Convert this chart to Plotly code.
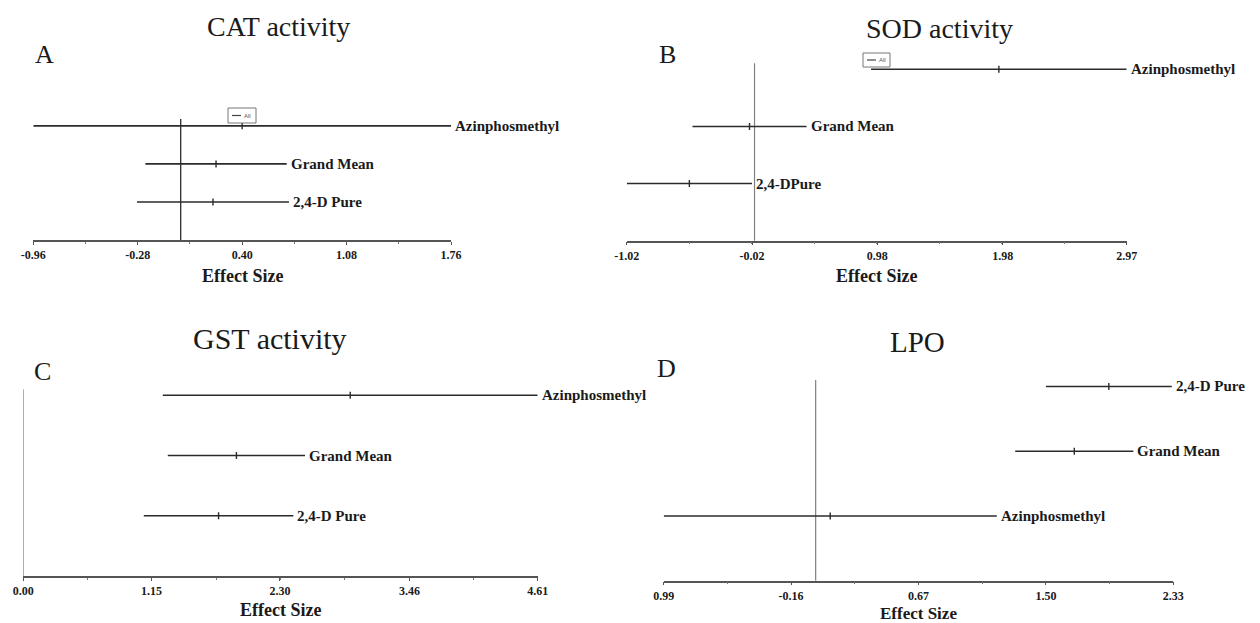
import plotly.graph_objects as go

# ---------------- data ----------------
# Panel A - CAT activity (top row first)
cat_labels = ["Azinphosmethyl", "Grand Mean", "2,4-D Pure"]
cat_mean = [0.40, 0.23, 0.21]
cat_low = [-0.96, -0.23, -0.285]
cat_high = [1.76, 0.69, 0.705]
cat_ticks = [-0.96, -0.28, 0.40, 1.08, 1.76]
cat_ticktext = ["-0.96", "-0.28", "0.40", "1.08", "1.76"]

# Panel B - SOD activity
sod_labels = ["Azinphosmethyl", "Grand Mean", "2,4-DPure"]
sod_mean = [1.95, -0.04, -0.52]
sod_low = [0.93, -0.495, -1.02]
sod_high = [2.97, 0.415, -0.02]
sod_ticks = [-1.02, -0.02, 0.98, 1.98, 2.97]
sod_ticktext = ["-1.02", "-0.02", "0.98", "1.98", "2.97"]

# Panel C - GST activity
gst_labels = ["Azinphosmethyl", "Grand Mean", "2,4-D Pure"]
gst_mean = [2.93, 1.91, 1.75]
gst_low = [1.25, 1.295, 1.08]
gst_high = [4.61, 2.525, 2.42]
gst_ticks = [0.00, 1.15, 2.30, 3.46, 4.61]
gst_ticktext = ["0.00", "1.15", "2.30", "3.46", "4.61"]

# Panel D - LPO
lpo_labels = ["2,4-D Pure", "Grand Mean", "Azinphosmethyl"]
lpo_mean = [1.91, 1.685, 0.095]
lpo_low = [1.50, 1.30, -0.99]
lpo_high = [2.32, 2.07, 1.18]
lpo_ticks = [-0.99, -0.16, 0.67, 1.50, 2.33]
lpo_ticktext = ["0.99", "-0.16", "0.67", "1.50", "2.33"]

titles = ["CAT activity", "SOD activity", "GST activity", "LPO"]
letters = ["A", "B", "C", "D"]
axis_title = "Effect Size"

# ---------------- layout helpers ----------------
W, H = 1260, 623
SERIF = "Liberation Serif, Times New Roman, serif"
LINE = "#2b2b2b"


def px(x):
    return x / W


def py(y):
    return 1 - y / H


panels = [
    dict(labels=cat_labels, mean=cat_mean, low=cat_low, high=cat_high,
         ticks=cat_ticks, ticktext=cat_ticktext,
         xd=(33.3, 451), yd=(119, 240), ytop=3.18, zc="#1a1a1a",
         title_xy=(278, 26), title_size=28, letter_xy=(33, 54.5),
         legend=(228, 108, 256, 123), ax_title_y=275.5, ax_title_size=18),
    dict(labels=sod_labels, mean=sod_mean, low=sod_low, high=sod_high,
         ticks=sod_ticks, ticktext=sod_ticktext,
         xd=(626.7, 1126.7), yd=(63.3, 240.7), ytop=3.105, zc="#808080",
         title_xy=(939, 28.3), title_size=28, letter_xy=(657, 54),
         legend=(863, 53, 890, 67), ax_title_y=275.5, ax_title_size=18),
    dict(labels=gst_labels, mean=gst_mean, low=gst_low, high=gst_high,
         ticks=gst_ticks, ticktext=gst_ticktext,
         xd=(23.3, 537.7), yd=(389.3, 576), ytop=3.10, zc="#808080",
         title_xy=(270, 338), title_size=30, letter_xy=(32, 371),
         legend=None, ax_title_y=610, ax_title_size=18),
    dict(labels=lpo_labels, mean=lpo_mean, low=lpo_low, high=lpo_high,
         ticks=lpo_ticks, ticktext=lpo_ticktext,
         xd=(663.7, 1173.3), yd=(380, 580.7), ytop=3.10, zc="#808080",
         title_xy=(917.5, 342), title_size=29, letter_xy=(655, 368.5),
         legend=None, ax_title_y=613, ax_title_size=17),
]

fig = go.Figure()
annotations = []
shapes = []

for i, p in enumerate(panels):
    sfx = "" if i == 0 else str(i + 1)
    xa, ya = "x" + sfx, "y" + sfx
    n = len(p["labels"])
    rows = [n - k for k in range(n)]
    plus = [h - m for h, m in zip(p["high"], p["mean"])]
    minus = [m - l for m, l in zip(p["mean"], p["low"])]

    fig.add_trace(go.Scatter(
        x=p["mean"], y=rows, mode="markers", xaxis=xa, yaxis=ya,
        marker=dict(symbol="line-ns", size=5, color=LINE,
                    line=dict(width=1.4, color=LINE)),
        error_x=dict(type="data", symmetric=False, array=plus,
                     arrayminus=minus, width=0, thickness=1.6, color=LINE),
        showlegend=False, hoverinfo="x+y",
    ))

    # row labels at right end of each interval
    for lab, hi, r in zip(p["labels"], p["high"], rows):
        annotations.append(dict(
            x=hi, y=r, xref=xa, yref=ya, text=lab, showarrow=False,
            xanchor="left", yanchor="middle", xshift=2,
            font=dict(family=SERIF, size=15, color="#1a1a1a", weight="bold")))

    ticks = p["ticks"]
    step = (ticks[-1] - ticks[0]) / (len(ticks) - 1)
    axis_common = dict(
        domain=[px(p["xd"][0]), px(p["xd"][1])],
        range=[ticks[0], ticks[-1]],
        tickmode="array", tickvals=ticks, ticktext=p["ticktext"],
        ticks="outside", ticklen=3, tickwidth=1.2, tickcolor="#555",
        showline=True, linecolor="#555", linewidth=1.5,
        showgrid=False, zeroline=False, automargin=False,
        tickfont=dict(family=SERIF, size=12, color="#1a1a1a", weight="bold"),
        minor=dict(ticks="outside", ticklen=2, tickwidth=1, tickcolor="#777",
                   tick0=ticks[0], dtick=step / 2, showgrid=False),
        anchor=ya, fixedrange=True,
    )
    fig.layout["xaxis" + sfx] = axis_common
    fig.layout["yaxis" + sfx] = dict(
        domain=[py(p["yd"][1]), py(p["yd"][0])], range=[0, p["ytop"]],
        visible=False, anchor=xa, fixedrange=True, automargin=False)

    # vertical reference line at zero effect
    shapes.append(dict(type="line", xref=xa, yref=ya + " domain",
                       x0=0, x1=0, y0=0, y1=1,
                       line=dict(color=p["zc"], width=1.2), layer="below"))

    # titles, panel letters, axis titles
    tx, ty = p["title_xy"]
    annotations.append(dict(
        x=px(tx), y=py(ty), xref="paper", yref="paper", text=titles[i],
        showarrow=False, xanchor="center", yanchor="middle",
        font=dict(family=SERIF, size=p["title_size"], color="#1a1a1a")))
    lx, ly = p["letter_xy"]
    annotations.append(dict(
        x=px(lx), y=py(ly), xref="paper", yref="paper", text=letters[i],
        showarrow=False, xanchor="left", yanchor="middle",
        font=dict(family=SERIF, size=26, color="#1a1a1a")))
    axc = (p["xd"][0] + p["xd"][1]) / 2
    annotations.append(dict(
        x=px(axc), y=py(p["ax_title_y"]), xref="paper", yref="paper",
        text=axis_title, showarrow=False, xanchor="center", yanchor="middle",
        font=dict(family=SERIF, size=p["ax_title_size"], color="#1a1a1a",
                  weight="bold")))

    # small "All" legend box
    if p["legend"]:
        x0, y0, x1, y1 = p["legend"]
        shapes.append(dict(type="rect", xref="paper", yref="paper",
                           x0=px(x0), x1=px(x1), y0=py(y1), y1=py(y0),
                           line=dict(color="#777", width=1),
                           fillcolor="white"))
        ym = (y0 + y1) / 2
        shapes.append(dict(type="line", xref="paper", yref="paper",
                           x0=px(x0 + 4), x1=px(x0 + 13), y0=py(ym), y1=py(ym),
                           line=dict(color="#444", width=1.2)))
        annotations.append(dict(
            x=px(x0 + 14), y=py(ym), xref="paper", yref="paper", text="All",
            showarrow=False, xanchor="left", yanchor="middle",
            font=dict(family="Liberation Sans, Arial, sans-serif", size=6,
                      color="#555")))

fig.update_layout(
    width=W, height=H, margin=dict(l=0, r=0, t=0, b=0),
    paper_bgcolor="white", plot_bgcolor="white",
    annotations=annotations, shapes=shapes, showlegend=False,
)

fig.write_html("out.html")
